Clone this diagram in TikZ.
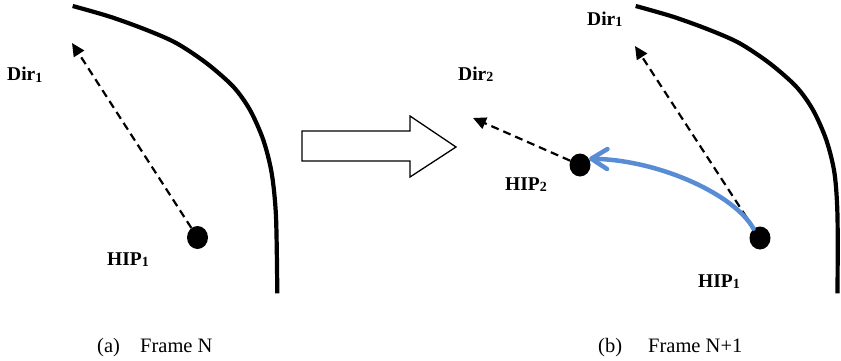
\documentclass[tikz,border=0pt]{standalone}
\usepackage{fontspec}
\setmainfont{Liberation Serif}
\usetikzlibrary{arrows.meta,shapes.geometric}
\definecolor{pathblue}{RGB}{88,141,214}
\newcommand{\lsub}[1]{\raisebox{-1.5pt}{\fontsize{14}{14}\selectfont #1}}
\tikzset{
  wall/.style={line width=4.2pt, line cap=butt},
  dirarrow/.style={line width=2.2pt, dash pattern=on 8pt off 5pt, -{Triangle[length=13pt,width=12pt]}},
  hip/.style={ellipse, fill=black, minimum width=21pt, minimum height=23pt, inner sep=0pt},
  lbl/.style={font=\fontsize{19.5}{19.5}\selectfont\bfseries, anchor=base west, inner sep=0pt},
  captext/.style={font=\fontsize{20.5}{20.5}\selectfont, anchor=base west, inner sep=0pt},
  movearrow/.style={pathblue, line width=4.5pt, line cap=round, -{Straight Barb[length=16pt,width=20pt,round]}},
  bigarrow/.style={draw=black, line width=1.3pt, fill=white, line join=miter}
}
\begin{document}
\begin{tikzpicture}[x=1pt,y=-1pt]
\useasboundingbox (0,0) rectangle (841,360);
% walls
\draw[wall] plot[smooth] coordinates {(72.7,6) (110,16.7) (146.7,30) (176.7,43.3) (206.7,63.3) (233.3,86.7) (250,110) (263.3,140) (271.7,173.3) (276,216.7) (277.3,293.3)};
\draw[wall] plot[smooth] coordinates {(635.7,6) (673,16.7) (709.7,30) (739.7,43.3) (769.7,63.3) (796.3,86.7) (813,110) (826.3,140) (834.5,173.3) (837.5,216.7) (837.5,293.3)};
% left panel
\node[hip] (hipA) at (197.5,237.5) {};
\coordinate (dirA) at (72,43);
\draw[dirarrow] (hipA) -- (dirA);
\node[lbl] (lDirA) at (7,80.5) {Dir\lsub{1}};
\node[lbl] (lHipA) at (107,265) {HIP\lsub{1}};
% block arrow
\draw[bigarrow] (302,131) -- (410,131) -- (410,116) -- (456,147) -- (410,177) -- (410,161) -- (302,161) -- cycle;
% right panel
\node[hip] (hipB) at (760,238) {};
\node[hip] (hipC) at (580,165) {};
\coordinate (dirB) at (635,46);
\coordinate (dirC) at (473,118);
\draw[dirarrow] (hipB) -- (dirB);
\draw[dirarrow] (hipC) -- (dirC);
\draw[movearrow] (hipB.125) .. controls (735,195) and (660,160) .. (hipC.35);
\node[lbl] (lDirB) at (587,25) {Dir\lsub{1}};
\node[lbl] (lDirC) at (458,80) {Dir\lsub{2}};
\node[lbl] (lHipC) at (505,190) {HIP\lsub{2}};
\node[lbl] (lHipB) at (698,287) {HIP\lsub{1}};
% captions
\node[captext] (capa) at (97,352) {(a)};
\node[captext] (capaT) at (140,352) {Frame N};
\node[captext] (capb) at (598,352) {(b)};
\node[captext] (capbT) at (648,352) {Frame N+1};
\end{tikzpicture}
\end{document}
